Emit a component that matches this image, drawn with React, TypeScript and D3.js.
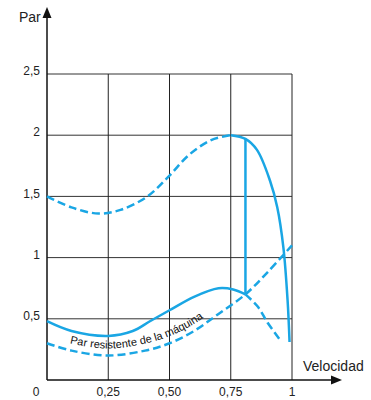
import React from 'react';
import * as d3 from 'd3';

// torque curves, [velocidad, par]
const upperDashed: [number, number][] = [
  [0, 1.5], [0.1, 1.41], [0.21, 1.36], [0.3, 1.39], [0.41, 1.5],
  [0.5, 1.67], [0.58, 1.84], [0.67, 1.96], [0.75, 2.0],
];
const upperSolid: [number, number][] = [
  [0.75, 2.0], [0.81, 1.97], [0.857, 1.88], [0.91, 1.63], [0.94, 1.41],
  [0.965, 1.08], [0.982, 0.65], [0.99, 0.31],
];
const lowerSolid: [number, number][] = [
  [0, 0.48], [0.1, 0.4], [0.25, 0.36], [0.35, 0.4], [0.42, 0.48],
  [0.5, 0.57], [0.6, 0.68], [0.7, 0.75], [0.76, 0.74], [0.81, 0.7],
];
const lowerDashed: [number, number][] = [
  [0.81, 0.7], [0.86, 0.6], [0.9, 0.47], [0.95, 0.33],
];
const loadCurve: [number, number][] = [
  [0, 0.3], [0.1, 0.24], [0.25, 0.2], [0.4, 0.24], [0.5, 0.3],
  [0.6, 0.4], [0.7, 0.54], [0.81, 0.7], [0.9, 0.88], [1.0, 1.1],
];
const jumpLine: [number, number][] = [[0.81, 0.7], [0.81, 1.97]];

const xTicks = [0, 0.25, 0.5, 0.75, 1];
const xTickLabels = ['0', '0,25', '0,50', '0,75', '1'];
const yTicks = [0.5, 1, 1.5, 2, 2.5];
const yTickLabels = ['0,5', '1', '1,5', '2', '2,5'];

const BLUE = '#1aa6e4';

export default function App() {
  const x = d3.scaleLinear().domain([0, 1]).range([47, 292]);
  const y = d3.scaleLinear().domain([0, 2.5]).range([380, 74]);

  const line = d3.line<[number, number]>()
    .x(d => x(d[0]))
    .y(d => y(d[1]))
    .curve(d3.curveCatmullRom);

  // label path follows the load curve a little above it
  const labelLine = d3.line<[number, number]>()
    .x(d => x(d[0]))
    .y(d => y(d[1]) - 7)
    .curve(d3.curveCatmullRom);

  const font = 'Liberation Sans, Arial, sans-serif';

  return (
    <svg width={371} height={400} style={{ position: 'absolute', left: 0, top: 0 }}>
      <rect width={371} height={400} fill="#fff" />
      <defs>
        <path id="labelPath" d={labelLine(loadCurve.slice(0, 8)) || ''} />
      </defs>

      {/* grid */}
      {yTicks.map(t => (
        <line key={'gy' + t} x1={x(0)} x2={x(1)} y1={y(t)} y2={y(t)} stroke="#333" strokeWidth={1} />
      ))}
      {xTicks.slice(1).map(t => (
        <line key={'gx' + t} x1={x(t)} x2={x(t)} y1={y(2.5)} y2={y(0)} stroke="#222" strokeWidth={1} />
      ))}

      {/* axes */}
      <line x1={x(0)} x2={x(0)} y1={y(0)} y2={16} stroke="#111" strokeWidth={1.5} />
      <path d={`M${x(0)},7 L${x(0) - 4.5},18 L${x(0) + 4.5},18 Z`} fill="#111" />
      <line x1={x(0)} x2={332} y1={y(0)} y2={y(0)} stroke="#111" strokeWidth={1.5} />
      <path d={`M342,${y(0)} L331,${y(0) - 4.5} L331,${y(0) + 4.5} Z`} fill="#111" />

      {/* tick labels */}
      {xTicks.map((t, i) => (
        <text key={'tx' + t} x={i === 0 ? 36 : x(t)} y={396} textAnchor="middle"
          fontFamily={font} fontSize={12} fill="#222">{xTickLabels[i]}</text>
      ))}
      {yTicks.map((t, i) => (
        <text key={'ty' + t} x={40} y={y(t)} dy="0.1em" textAnchor="end"
          fontFamily={font} fontSize={12} fill="#222">{yTickLabels[i]}</text>
      ))}
      <text x={19} y={22} fontFamily={font} fontSize={14} fill="#222">Par</text>
      <text x={303} y={371} fontFamily={font} fontSize={14} fill="#222">Velocidad</text>

      {/* curves */}
      <path d={line(upperDashed) || ''} fill="none" stroke={BLUE} strokeWidth={2.5} strokeDasharray="8,4" />
      <path d={line(upperSolid) || ''} fill="none" stroke={BLUE} strokeWidth={2.5} />
      <path d={line(lowerSolid) || ''} fill="none" stroke={BLUE} strokeWidth={2.5} />
      <path d={line(lowerDashed) || ''} fill="none" stroke={BLUE} strokeWidth={2.5} strokeDasharray="8,4" />
      <path d={line(loadCurve) || ''} fill="none" stroke={BLUE} strokeWidth={2.5} strokeDasharray="8,4" />
      <path d={d3.line()(jumpLine.map(d => [x(d[0]), y(d[1])]) as [number, number][]) || ''}
        fill="none" stroke={BLUE} strokeWidth={2.5} />

      <text fontFamily={font} fontSize={11} fill="#111">
        <textPath href="#labelPath" startOffset={24}>Par resistente de la máquina</textPath>
      </text>
    </svg>
  );
}
